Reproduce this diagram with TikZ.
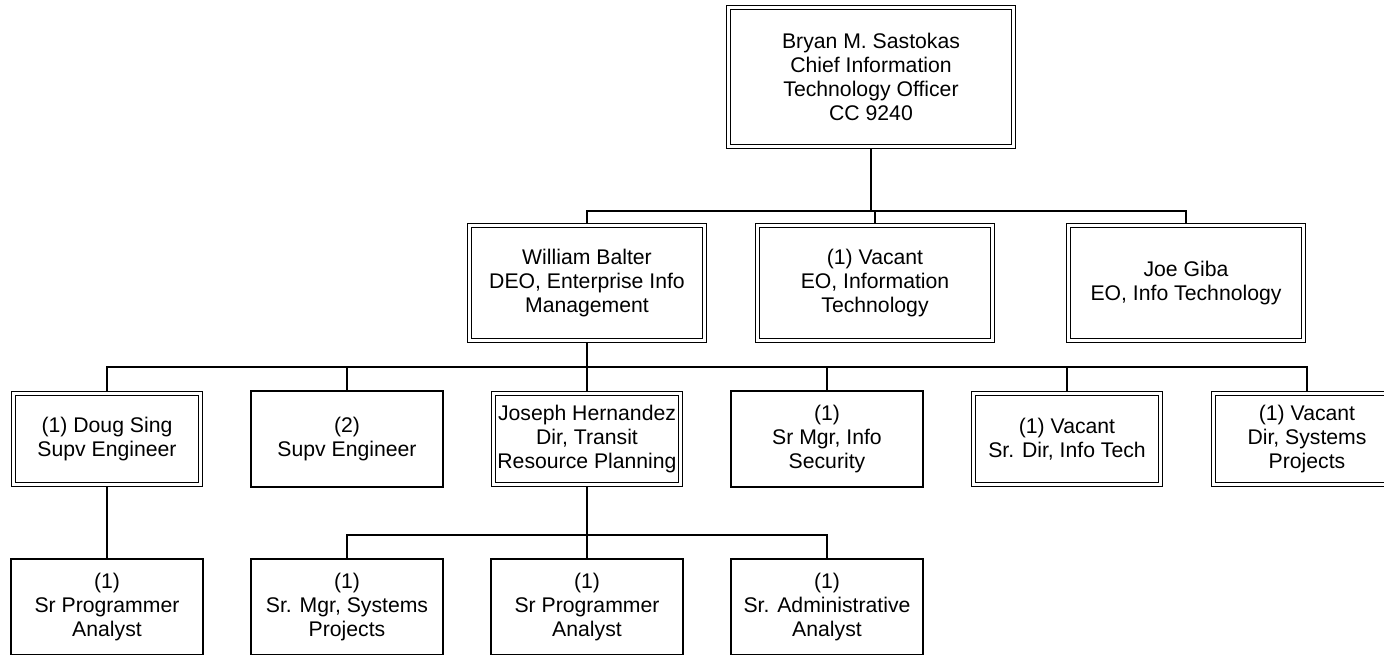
\documentclass[tikz,border=0pt]{standalone}
\usepackage{fontspec}
\setmainfont{Liberation Sans}
\usepackage{tikz}
\usetikzlibrary{
	positioning,
	backgrounds
}

\begin{document}
\begin{tikzpicture}[
	x=1pt,y=-1pt,
	font=\fontsize{21.2}{24}\selectfont,
	onebox/.style={
		draw,
		fill=white,
		line width=1.6pt,
		align=center,
		inner sep=0pt,
		minimum width=192pt,
		minimum height=96pt
	},
	twobox/.style={
		onebox,
		line width=1.5pt,
		double,
		double distance=2.2pt,
		minimum width=187pt,
		minimum height=91pt
	},
	link/.style={line width=1.6pt}
	]
	
	\useasboundingbox (0,0) rectangle (1384,654);
	\clip (0,0) rectangle (1384,654);
	
	% chief
	\node[
	twobox,
	minimum width=285pt,
	minimum height=139pt
	]
	(T) at (871,77)
	{Bryan M. Sastokas\\Chief Information\\Technology Officer\\CC 9240};
	
	% second level
	\node[
	twobox,
	minimum width=235pt,
	minimum height=115pt
	]
	(W) at (587,283)
	{William Balter\\DEO, Enterprise Info\\Management};
	
	\node[
	twobox,
	minimum width=235pt,
	minimum height=115pt
	]
	(V) at (875,283)
	{(1) Vacant\\EO, Information\\Technology};
	
	\node[
	twobox,
	minimum width=235pt,
	minimum height=115pt
	]
	(G) at (1186,283)
	{Joe Giba\\EO, Info Technology};
	
	% third level
	\node[twobox] (D) at (107,439) {(1) Doug Sing\\Supv Engineer};
	\node[onebox] (S) at (347,439) {(2)\\Supv Engineer};
	\node[twobox] (J) at (587,439) {Joseph Hernandez\\Dir, Transit\\Resource Planning};
	\node[onebox] (M) at (827,439) {(1)\\Sr Mgr, Info\\Security};
	\node[twobox] (X) at (1067,439) {(1) Vacant\\Sr. Dir, Info Tech};
	\node[twobox] (Y) at (1307,439) {(1) Vacant\\Dir, Systems\\Projects};
	
	% fourth level
	\node[onebox] (P1) at (107,607) {(1)\\Sr Programmer\\Analyst};
	\node[onebox] (P2) at (347,607) {(1)\\Sr. Mgr, Systems\\Projects};
	\node[onebox] (P3) at (587,607) {(1)\\Sr Programmer\\Analyst};
	\node[onebox] (P4) at (827,607) {(1)\\Sr. Administrative\\Analyst};
	
	\coordinate (B1) at (871,211);
	\coordinate (B2) at (587,367);
	\coordinate (B3) at (587,535);
	
	\begin{scope}[on background layer]
		\draw[link] (T) -- (B1);
		\draw[link] (W.north) -- (W.north |- B1) -| (G.north);
		\draw[link] (V.north) -- (V.north |- B1);
		
		\draw[link] (W) -- (B2);
		\draw[link] (D.north) -- (D.north |- B2) -| (Y.north);
		\draw[link] (S.north) -- (S.north |- B2);
		\draw[link] (J.north) -- (B2);
		\draw[link] (M.north) -- (M.north |- B2);
		\draw[link] (X.north) -- (X.north |- B2);
		
		\draw[link] (D) -- (P1);
		
		\draw[link] (J) -- (B3);
		\draw[link] (P2.north) -- (P2.north |- B3) -| (P4.north);
		\draw[link] (P3.north) -- (B3);
	\end{scope}
	
\end{tikzpicture}
\end{document}
